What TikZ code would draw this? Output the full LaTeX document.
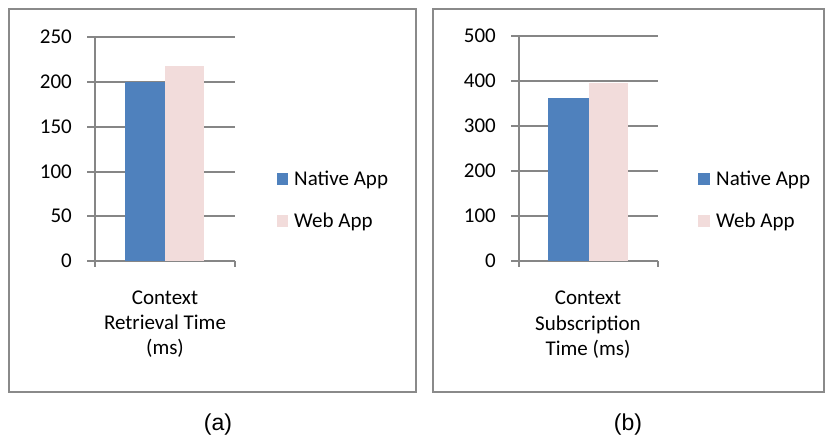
\documentclass[tikz,border=0pt]{standalone}
\usepackage{fontspec}
\setmainfont{Carlito}
\newfontfamily\arialfont{Liberation Sans}
\definecolor{nativeblue}{HTML}{4F81BD}
\definecolor{webpink}{HTML}{F2DCDB}
\definecolor{gridgray}{HTML}{868686}
\definecolor{framegray}{HTML}{8A8A8A}
\begin{document}
\begin{tikzpicture}[x=1pt,y=-1pt,
  framebox/.style={draw=framegray,line width=2pt},
  gridline/.style={draw=gridgray,line width=1.5pt},
  ticklab/.style={anchor=east,inner sep=0pt,font=\fontsize{21}{25}\selectfont},
  catlab/.style={anchor=base,inner sep=0pt,font=\fontsize{21}{25}\selectfont},
  leglab/.style={anchor=base west,inner sep=0pt,font=\fontsize{21}{25}\selectfont},
  panellab/.style={anchor=base,inner sep=0pt,font=\arialfont\fontsize{23}{27}\selectfont},
  nativebar/.style={fill=nativeblue,draw=none},
  webbar/.style={fill=webpink,draw=none}]
\useasboundingbox (0,0) rectangle (827,439);
% ---------- panel (a) ----------
\draw[framebox] (9,9) rectangle (416,392);
\foreach \y/\v in {37/250,82/200,127/150,172/100,216/50,261/0}{
  \draw[gridline] (87,\y) -- (235,\y);
  \node[ticklab] (ta\v) at (72,\y) {\v};
}
\draw[gridline] (95,37) -- (95,267);
\draw[gridline] (235,261) -- (235,267);
\fill[nativebar] (125,82) rectangle (165,261);
\fill[webbar] (165,66) rectangle (204,261);
\node[catlab] (ca1) at (165,304) {Context};
\node[catlab] (ca2) at (165,329) {Retrieval Time};
\node[catlab] (ca3) at (165,354) {(ms)};
\fill[nativeblue] (277,173) rectangle (288,185);
\node[leglab] (lna) at (294,185) {Native App};
\fill[webpink] (277,215) rectangle (288,227);
\node[leglab] (lwa) at (294,227) {Web App};
\node[panellab] (pa) at (218,430) {(a)};
% ---------- panel (b) ----------
\draw[framebox] (433,9) rectangle (824,392);
\foreach \y/\v in {36/500,81/400,126/300,171/200,216/100,261/0}{
  \draw[gridline] (511,\y) -- (658,\y);
  \node[ticklab] (tb\v) at (496,\y) {\v};
}
\draw[gridline] (519,36) -- (519,267);
\draw[gridline] (658,261) -- (658,267);
\fill[nativebar] (548,98) rectangle (589,261);
\fill[webbar] (589,83) rectangle (628,261);
\node[catlab] (cb1) at (588,304) {Context};
\node[catlab] (cb2) at (588,330) {Subscription};
\node[catlab] (cb3) at (588,355) {Time (ms)};
\fill[nativeblue] (698,173) rectangle (710,185);
\node[leglab] (lnb) at (716,185) {Native App};
\fill[webpink] (698,215) rectangle (710,227);
\node[leglab] (lwb) at (716,227) {Web App};
\node[panellab] (pb) at (628,430) {(b)};
\end{tikzpicture}
\end{document}
